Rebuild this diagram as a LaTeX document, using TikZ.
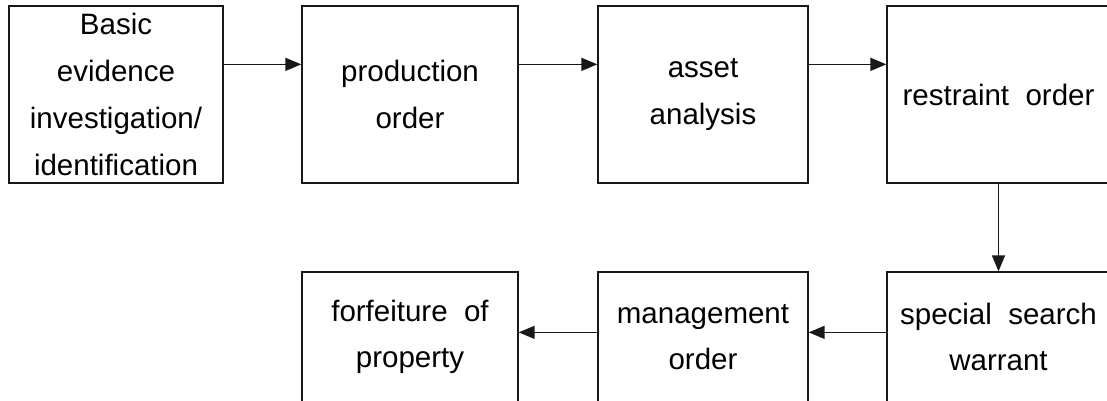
\documentclass[tikz,border=0pt]{standalone}
\usepackage{fontspec}
\setmainfont{Liberation Sans}
\usetikzlibrary{arrows.meta}
\begin{document}
\begin{tikzpicture}[x=1pt,y=-1pt,
  box/.style={draw=black!90, line width=1.3pt, rectangle, inner sep=0pt, align=center,
    font=\fontsize{29.5}{46.7}\selectfont},
  flow/.style={draw=black!90, line width=1.4pt, -{Triangle[length=16pt,width=13pt]}}]
\useasboundingbox (0,0) rectangle (1107,401);
% upper row
\node[box, minimum width=214pt, minimum height=177pt] (b1) at (116,94.5) {Basic\\evidence\\investigation/\\identification};
\node[box, minimum width=216pt, minimum height=177pt] (b2) at (410,94.5) {production\\order};
\node[box, minimum width=210pt, minimum height=177pt] (b3) at (703,94.5) {asset\\analysis};
\node[box, minimum width=223pt, minimum height=177pt] (b4) at (998.5,94.5) {restraint\ \ order};
% lower row
\node[box, minimum width=223pt, minimum height=130pt] (s) at (998.5,337) {special\ \ search\\warrant};
\node[box, minimum width=210pt, minimum height=130pt] (m) at (703,337) {management\\order};
\node[box, minimum width=216pt, minimum height=130pt] (f) at (410,337) {forfeiture\ \ of\\property};
% connectors
\draw[flow] ([yshift=-59pt]b1.north east) -- ([yshift=-59pt]b2.north west);
\draw[flow] ([yshift=-59pt]b2.north east) -- ([yshift=-59pt]b3.north west);
\draw[flow] ([yshift=-59pt]b3.north east) -- ([yshift=-59pt]b4.north west);
\draw[flow] (b4.south) -- (s.north);
\draw[flow] ([yshift=-61pt]s.north west) -- ([yshift=-61pt]m.north east);
\draw[flow] ([yshift=-61pt]m.north west) -- ([yshift=-61pt]f.north east);
\end{tikzpicture}
\end{document}
